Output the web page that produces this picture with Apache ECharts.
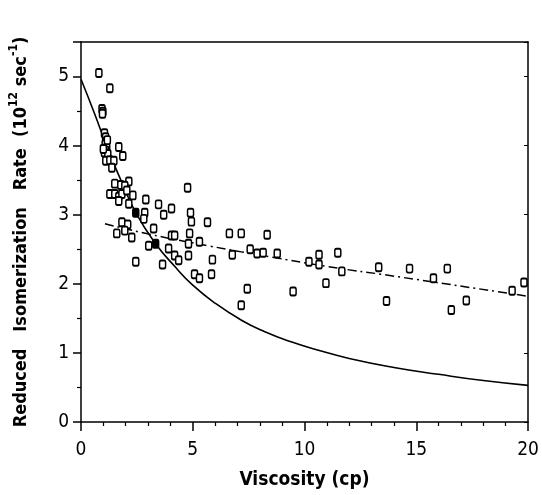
<!DOCTYPE html>
<html><head><meta charset="utf-8">
<script src="https://cdn.jsdelivr.net/npm/echarts@6/dist/echarts.min.js"></script>
<style>html,body{margin:0;padding:0;background:#fff}#c{width:542px;height:495px}</style>
</head><body><div id="c"></div>
<script>
// Scatter data: open symbols [viscosity (cp), reduced isomerization rate]
const openPoints = [
 [0.80,5.05],[1.29,4.83],[0.94,4.53],[0.98,4.49],[0.96,4.46],
 [1.05,4.18],[1.10,4.12],[1.12,4.06],[1.08,4.02],[1.15,3.97],[1.10,3.93],[1.05,3.90],[1.20,3.88],[1.00,3.95],[1.18,4.08],
 [1.69,3.98],[1.87,3.85],[1.11,3.78],[1.29,3.79],[1.47,3.78],[1.38,3.68],
 [1.51,3.45],[1.78,3.43],[2.14,3.48],[1.96,3.42],[1.29,3.30],[1.51,3.30],[1.69,3.26],[1.83,3.30],[2.05,3.35],[1.69,3.20],[2.32,3.28],[2.14,3.16],
 [2.90,3.22],[3.47,3.15],[3.70,3.00],[4.05,3.09],[2.85,3.03],[2.81,2.94],[1.83,2.89],[2.09,2.86],[1.60,2.73],[1.96,2.77],[2.27,2.67],[3.25,2.80],
 [4.05,2.70],[4.19,2.70],[3.03,2.55],[3.92,2.51],[4.19,2.41],[4.37,2.34],[2.45,2.32],[3.65,2.28],
 [4.77,3.39],[4.90,3.03],[4.94,2.90],[5.66,2.89],[4.86,2.73],[6.64,2.73],[7.17,2.73],[4.81,2.58],[5.30,2.61],[6.77,2.42],[7.57,2.50],[4.81,2.41],[5.88,2.35],
 [5.08,2.14],[5.30,2.08],[5.84,2.14],
 [8.33,2.71],[7.88,2.44],[8.15,2.45],[8.78,2.44],[10.65,2.42],[11.49,2.45],[10.20,2.32],[10.65,2.28],[11.67,2.18],[13.32,2.24],
 [7.44,1.93],[9.49,1.89],[10.96,2.01],[7.17,1.69],
 [14.70,2.22],[16.39,2.22],[15.77,2.08],[19.29,1.90],[19.82,2.02],[13.67,1.75],[17.24,1.76],[16.57,1.62]
];
// Filled symbols lying on the solid curve
const filledPoints = [[2.45,3.03],[3.34,2.58]];
// Solid curve (model fit)
const solidCurve = [
 [0,4.96],[0.6,4.47],[1.2,3.95],[1.8,3.49],[2.45,3.03],[3.34,2.58],[4.2,2.25],[5.0,1.98],
 [6.0,1.72],[7.2,1.47],[8.2,1.31],[9.4,1.16],[10.5,1.05],[12.0,0.92],[14.0,0.79],
 [16.0,0.69],[18.0,0.60],[20,0.53]
];
// Dash-dot curve
const dashCurve = [
 [1.07,2.87],[3.03,2.72],[5.70,2.55],[8.64,2.38],[11.63,2.22],[13.40,2.14],[20,1.82]
];
const xTicks = [0,5,10,15,20];
const yTicks = [0,1,2,3,4,5];

const FF = "'DejaVu Sans Condensed','Liberation Sans Narrow','DejaVu Sans',sans-serif";
const chart = echarts.init(document.getElementById('c'), null, {renderer:'canvas'});
chart.setOption({
  animation:false,
  backgroundColor:'#fff',
  grid:{left:79,right:14,top:42,bottom:73,containLabel:false},
  xAxis:[{
    type:'value',min:0,max:20,interval:5,
    axisLine:{show:true,onZero:false,lineStyle:{color:'#000',width:1.5}},
    axisTick:{show:true,inside:false,length:9,lineStyle:{color:'#000',width:1.5}},
    minorTick:{show:true,splitNumber:5,length:4,lineStyle:{color:'#000',width:1.2}},
    splitLine:{show:false},
    axisLabel:{color:'#000',fontSize:19,fontFamily:FF,margin:19,
      formatter:v=>xTicks.includes(v)?String(v):''},
    name:'Viscosity (cp)',nameLocation:'middle',nameGap:49,
    nameTextStyle:{color:'#000',fontSize:19,fontWeight:'bold',fontFamily:FF}
  },{
    type:'value',position:'top',min:0,max:20,
    axisLine:{show:true,onZero:false,lineStyle:{color:'#000',width:1.5}},
    axisTick:{show:false},axisLabel:{show:false},splitLine:{show:false}
  }],
  yAxis:[{
    type:'value',min:0,max:5.5,interval:1,
    axisLine:{show:true,onZero:false,lineStyle:{color:'#000',width:1.5}},
    axisTick:{show:true,inside:false,length:8,lineStyle:{color:'#000',width:1.5}},
    minorTick:{show:true,splitNumber:2,length:4,lineStyle:{color:'#000',width:1.2}},
    splitLine:{show:false},
    axisLabel:{color:'#000',fontSize:19,fontFamily:FF,margin:12,
      formatter:v=>yTicks.includes(v)?String(v):''},
    name:'{n|Reduced   Isomerization   Rate  (10}{s|12}{n| sec}{s|-1}{n|)}',
    nameLocation:'middle',nameGap:51,nameRotate:90,
    nameTextStyle:{color:'#000',fontFamily:FF,
      rich:{n:{fontSize:18,fontWeight:'bold',fontFamily:FF,color:'#000',verticalAlign:'bottom',lineHeight:22},
            s:{fontSize:12,fontWeight:'bold',fontFamily:FF,color:'#000',verticalAlign:'top',lineHeight:22}}}
  },{
    type:'value',position:'right',min:0,max:5.5,interval:1,
    axisLine:{show:true,onZero:false,lineStyle:{color:'#000',width:1.5}},
    axisTick:{show:true,inside:true,length:4,lineStyle:{color:'#000',width:1}},
    axisLabel:{show:false},splitLine:{show:false}
  }],
  series:[
    {type:'line',data:solidCurve,smooth:0.5,showSymbol:false,symbol:'none',
     lineStyle:{color:'#000',width:1.6},z:2},
    {type:'line',data:dashCurve,smooth:0.5,showSymbol:false,symbol:'none',
     lineStyle:{color:'#000',width:1.5,type:[9,4,2,4]},z:2},
    {type:'scatter',data:openPoints,symbol:'roundRect',symbolSize:[6,8],
     itemStyle:{color:'#fff',borderColor:'#000',borderWidth:1.7,opacity:1},z:3},
    {type:'scatter',data:filledPoints,symbol:'roundRect',symbolSize:[6,8],
     itemStyle:{color:'#000',borderColor:'#000',borderWidth:1.7,opacity:1},z:3}
  ]
});
</script></body></html>
